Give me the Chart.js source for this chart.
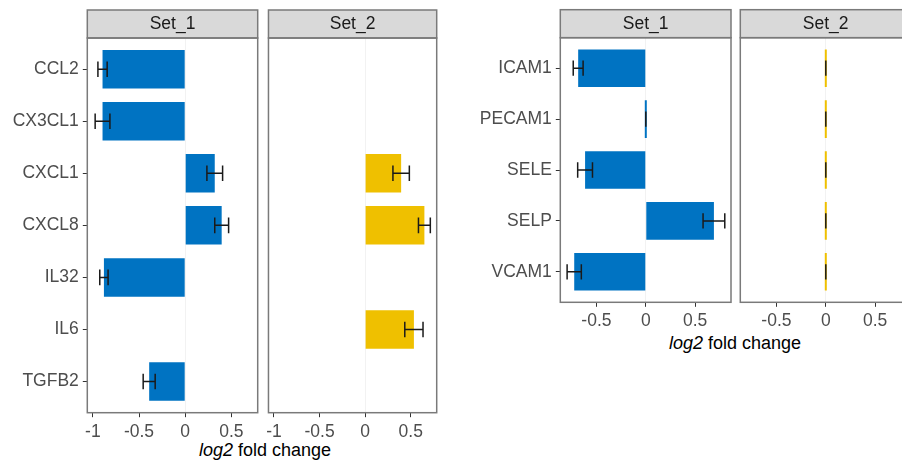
<!DOCTYPE html>
<html lang="en">
<head>
  <meta charset="UTF-8" />
  <title>log2 fold change – Set_1 / Set_2</title>
  <script src="https://cdn.jsdelivr.net/npm/chart.js"></script>
  <style>
    body { margin: 0; width: 902px; height: 462px; overflow: hidden; background: #fff; position: relative; }
    canvas { position: absolute; top: 0; }
    .axis-title { position: absolute; font: 18px 'Liberation Sans', Arial, sans-serif; color: #000; white-space: nowrap; transform: translate(-50%, -50%); }
  </style>
</head>
<body>

  <div class="axis-title" style="left:265px; top:450px;"><i>log2</i> fold change</div>
  <div class="axis-title" style="left:735px; top:343px;"><i>log2</i> fold change</div>

  <script>
    // left figure: chemokines / cytokines
    const leftGenes = ['CCL2', 'CX3CL1', 'CXCL1', 'CXCL8', 'IL32', 'IL6', 'TGFB2'];
    const leftSet1 = [-0.895, -0.895, 0.32, 0.395, -0.88, null, -0.39];
    const leftSet1Err = [0.05, 0.08, 0.085, 0.075, 0.045, null, 0.065];
    const leftSet2 = [null, null, 0.395, 0.65, null, 0.535, null];
    const leftSet2Err = [null, null, 0.09, 0.065, null, 0.10, null];
    const leftTicks = [-1, -0.5, 0, 0.5];

    // right figure: adhesion molecules
    const rightGenes = ['ICAM1', 'PECAM1', 'SELE', 'SELP', 'VCAM1'];
    const rightSet1 = [-0.685, 0, -0.615, 0.69, -0.725];
    const rightSet1Err = [0.05, 0, 0.075, 0.11, 0.072];
    const rightSet2 = [0, 0, 0, 0, 0];
    const rightSet2Err = [0, 0, 0, 0, 0];
    const rightTicks = [-0.5, 0, 0.5];

    const BLUE = '#0073C2';
    const YELLOW = '#EFC000';
    const H = 462;

    Chart.defaults.font.family = "'Liberation Sans', Arial, sans-serif";
    Chart.defaults.font.size = 17.5;

    function makePanel(cfg) {
      const canvas = document.createElement('canvas');
      canvas.width = cfg.w;
      canvas.height = H;
      canvas.style.left = cfg.left + 'px';
      document.body.appendChild(canvas);

      const n = cfg.labels.length;
      const data = cfg.values
        .map((v, i) => (v === null ? null : { x: v, y: i }))
        .filter(d => d);

      // strip + panel border + error bars
      const facet = {
        id: 'facet',
        afterDatasetsDraw(chart) {
          const { ctx, scales: { x, y } } = chart;
          ctx.save();
          ctx.strokeStyle = '#1a1a1a';
          ctx.lineWidth = 1.5;
          cfg.values.forEach((v, i) => {
            const e = cfg.errors[i];
            if (v === null || e === null) return;
            const py = y.getPixelForValue(i);
            const cap = Math.abs(y.getPixelForValue(i + 0.15) - py);
            const x1 = x.getPixelForValue(v - e);
            const x2 = x.getPixelForValue(v + e);
            ctx.beginPath();
            ctx.moveTo(x1, py); ctx.lineTo(x2, py);
            ctx.moveTo(x1, py - cap); ctx.lineTo(x1, py + cap);
            ctx.moveTo(x2, py - cap); ctx.lineTo(x2, py + cap);
            ctx.stroke();
          });
          ctx.restore();
        },
        afterDraw(chart) {
          const { ctx, chartArea: a } = chart;
          ctx.save();
          ctx.fillStyle = '#d9d9d9';
          ctx.fillRect(a.left, a.top - 28, a.right - a.left, 28);
          ctx.strokeStyle = '#7a7a7a';
          ctx.lineWidth = 1.5;
          ctx.strokeRect(a.left, a.top - 28, a.right - a.left, 28);
          ctx.strokeRect(a.left, a.top, a.right - a.left, a.bottom - a.top);
          ctx.fillStyle = '#1a1a1a';
          ctx.font = "17.5px 'Liberation Sans', Arial, sans-serif";
          ctx.textAlign = 'center';
          ctx.textBaseline = 'middle';
          ctx.fillText(cfg.strip, (a.left + a.right) / 2, a.top - 13.5);
          ctx.restore();
        }
      };

      return new Chart(canvas, {
        type: 'bar',
        data: {
          datasets: [{
            data: data,
            backgroundColor: cfg.color,
            categoryPercentage: 0.74,
            barPercentage: 1,
            minBarLength: 2
          }]
        },
        options: {
          indexAxis: 'y',
          responsive: false,
          animation: false,
          events: [],
          layout: { padding: { top: cfg.top, right: cfg.padR, left: cfg.padL, bottom: 0 } },
          plugins: { legend: { display: false }, tooltip: { enabled: false } },
          scales: {
            x: {
              type: 'linear',
              min: cfg.xmin,
              max: cfg.xmax,
              afterBuildTicks: s => { s.ticks = cfg.ticks.map(v => ({ value: v })); },
              afterFit: s => { s.height = H - cfg.bottom; },
              ticks: { color: '#4d4d4d', padding: 4, maxRotation: 0, autoSkip: false, callback: v => String(v) },
              grid: {
                color: c => (c.tick && c.tick.value === 0 ? '#f2f2f2' : 'rgba(0,0,0,0)'),
                tickColor: '#333',
                tickLength: 4.5,
                lineWidth: 1
              },
              border: { display: false }
            },
            y: {
              type: 'linear',
              reverse: true,
              offset: false,
              min: -0.6,
              max: n - 1 + 0.6,
              display: cfg.showY,
              afterBuildTicks: s => { s.ticks = cfg.labels.map((l, i) => ({ value: i })); },
              afterFit: s => { s.width = cfg.axisW; },
              ticks: { color: '#4d4d4d', padding: 4, autoSkip: false, callback: v => cfg.labels[v] },
              grid: { offset: false, drawOnChartArea: false, tickColor: '#333', tickLength: 4.5 },
              border: { display: false }
            }
          }
        },
        plugins: [facet]
      });
    }

    // left figure
    makePanel({ left: 0, w: 262, top: 38, bottom: 412.7, padL: 0, padR: 4.3, axisW: 87.3, showY: true,
      labels: leftGenes, values: leftSet1, errors: leftSet1Err, color: BLUE, strip: 'Set_1',
      xmin: -1.06, xmax: 0.785, ticks: leftTicks });
    makePanel({ left: 262, w: 180, top: 38, bottom: 412.7, padL: 5, padR: 5.3, axisW: 0, showY: false,
      labels: leftGenes, values: leftSet2, errors: leftSet2Err, color: YELLOW, strip: 'Set_2',
      xmin: -1.06, xmax: 0.785, ticks: leftTicks });

    // right figure
    makePanel({ left: 470, w: 265, top: 37.7, bottom: 302.3, padL: 0, padR: 4, axisW: 90.3, showY: true,
      labels: rightGenes, values: rightSet1, errors: rightSet1Err, color: BLUE, strip: 'Set_1',
      xmin: -0.866, xmax: 0.863, ticks: rightTicks });
    makePanel({ left: 735, w: 200, top: 37.7, bottom: 302.3, padL: 5.3, padR: 24, axisW: 0, showY: false,
      labels: rightGenes, values: rightSet2, errors: rightSet2Err, color: YELLOW, strip: 'Set_2',
      xmin: -0.866, xmax: 0.863, ticks: rightTicks });
  </script>

</body>
</html>
